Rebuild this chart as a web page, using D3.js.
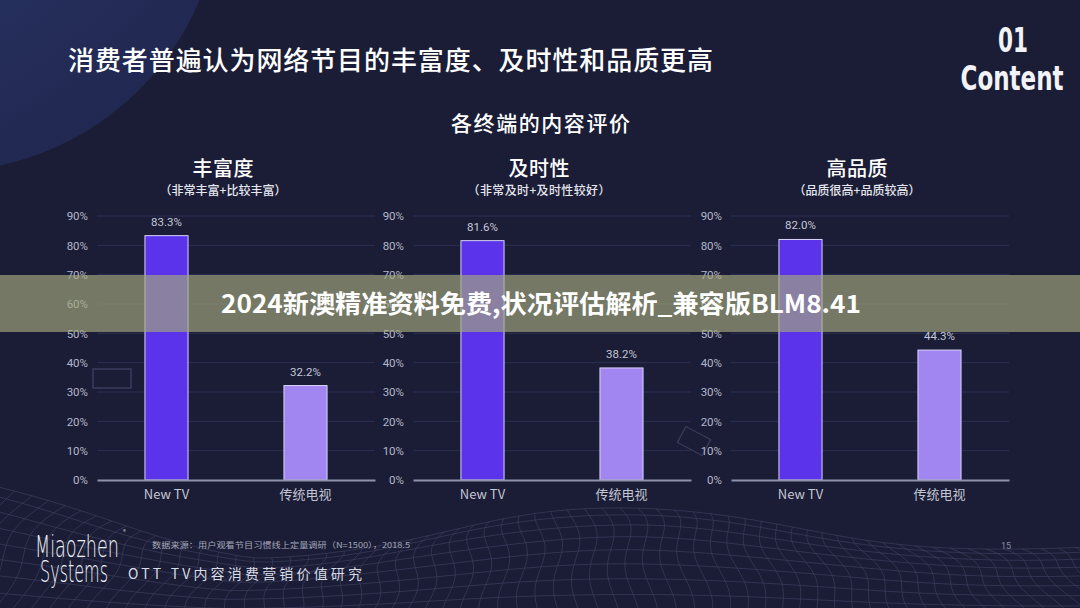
<!DOCTYPE html>
<html><head><meta charset="utf-8">
<script src="https://cdn.jsdelivr.net/npm/d3@7/dist/d3.min.js"></script>
<style>
html,body{margin:0;padding:0;background:#1b1d36;}
svg{display:block;}
text{font-family:"Noto Sans CJK SC","Noto Sans",sans-serif;}
</style></head>
<body>
<svg id="chart" width="1080" height="608"></svg>
<script>
// ---- data ----
const categories = ["New TV", "传统电视"];
const panelTitles = ["丰富度", "及时性", "高品质"];
const panelSubtitles = ["（非常丰富+比较丰富）", "（非常及时+及时性较好）", "（品质很高+品质较高）"];
const richnessValues = [83.3, 32.2];
const timelinessValues = [81.6, 38.2];
const qualityValues = [82.0, 44.3];
const tickValues = [0, 10, 20, 30, 40, 50, 60, 70, 80, 90];
const mainTitle = "消费者普遍认为网络节目的丰富度、及时性和品质更高";
const chartTitle = "各终端的内容评价";
const bannerText = "2024新澳精准资料免费,状况评估解析_兼容版BLM8.41";
const sourceText = "数据来源：用户观看节目习惯线上定量调研（N=1500），2018.5";
const reportText = "OTT TV内容消费营销价值研究";

const panelValues = [richnessValues, timelinessValues, qualityValues];
const subtitleWidths = [127, 143, 127];

const svg = d3.select("#chart");
const W = 1080, H = 608;
const defs = svg.append("defs");

// background
svg.append("rect").attr("width", W).attr("height", H).attr("fill", "#1b1d36");
const rg = defs.append("radialGradient").attr("id", "glow")
  .attr("cx", "0.25").attr("cy", "0.2").attr("r", "0.9");
rg.append("stop").attr("offset", "0").attr("stop-color", "#2f3f72");
rg.append("stop").attr("offset", "1").attr("stop-color", "#212851");
svg.append("circle").attr("cx", -60).attr("cy", -110).attr("r", 282).attr("fill", "url(#glow)");

// decorative wireframe at bottom
const mesh = svg.append("g").attr("fill", "none").attr("stroke", "#7c82b0").attr("stroke-width", 0.6).attr("opacity", 0.38);
const topY = x => 535 + 18 * Math.sin(x / 160 + 0.6) - 10 * Math.cos(x / 95) + (x < 260 ? (260 - x) * -0.18 : 0);
const rows = 9, cols = 70;
const pt = (i, j) => {
  const x0 = i * (W + 80) / cols - 40;
  const t = j / rows;
  const y0 = topY(x0);
  const yy = y0 + (H + 20 - y0) * Math.pow(t, 1.3);
  const xx = x0 + (x0 - 540) * 0.15 * t + 6 * Math.sin(j + i * 0.3);
  return [xx, yy];
};
const line = d3.line().curve(d3.curveBasis);
for (let j = 0; j <= rows; j++) {
  mesh.append("path").attr("d", line(d3.range(cols + 1).map(i => pt(i, j))));
}
for (let i = 0; i <= cols; i++) {
  mesh.append("path").attr("d", line(d3.range(rows + 1).map(j => pt(i, j))));
}

// faint decorative frames
svg.append("rect").attr("x", 93).attr("y", 369).attr("width", 38).attr("height", 19)
  .attr("fill", "none").attr("stroke", "#3a3e5e").attr("stroke-width", 1.5);
svg.append("rect").attr("x", 680).attr("y", 432).attr("width", 28).attr("height", 18)
  .attr("fill", "none").attr("stroke", "#3a3e5e").attr("stroke-width", 1.2)
  .attr("transform", "rotate(28 694 441)");

// titles
svg.append("text").attr("x", 68).attr("y", 70).attr("fill", "#ffffff")
  .attr("font-size", 26).attr("font-weight", 500)
  .attr("textLength", 645).attr("lengthAdjust", "spacing").text(mainTitle);
svg.append("text").attr("x", 1013).attr("y", 52).attr("text-anchor", "middle")
  .attr("fill", "#f2f3f8").attr("font-weight", "bold")
  .attr("font-size", 34).attr("textLength", 30).attr("lengthAdjust", "spacingAndGlyphs")
  .style("font-family", "'DejaVu Sans'").text("01");
svg.append("text").attr("x", 1012).attr("y", 90).attr("text-anchor", "middle")
  .attr("fill", "#f2f3f8").attr("font-weight", "bold")
  .attr("font-size", 34).attr("textLength", 103).attr("lengthAdjust", "spacingAndGlyphs")
  .style("font-family", "'DejaVu Sans'").text("Content");
svg.append("text").attr("x", 451).attr("y", 131)
  .attr("fill", "#ffffff").attr("font-size", 21).attr("font-weight", 500)
  .attr("textLength", 179).attr("lengthAdjust", "spacing").text(chartTitle);

// panels
const plotW = 278, y0 = 480, y90 = 216;
const y = d3.scaleLinear().domain([0, 90]).range([y0, y90]);
const x = d3.scaleBand().domain(categories).range([0, plotW]).paddingInner(0.69).paddingOuter(0.345);
const barColors = d3.scaleOrdinal().domain(categories).range(["#5a33ea", "#a186f1"]);
const panelLefts = [97, 413, 731];

panelValues.forEach((vals, p) => {
  const g = svg.append("g").attr("transform", `translate(${panelLefts[p]},0)`);
  g.append("text").attr("x", 126 - 30.5).attr("y", 176)
    .attr("fill", "#ffffff").attr("font-size", 20).attr("font-weight", 500)
    .attr("textLength", 61).attr("lengthAdjust", "spacing").text(panelTitles[p]);
  g.append("text").attr("x", 126 - subtitleWidths[p] / 2).attr("y", 195)
    .attr("fill", "#e6e7ee").attr("font-size", 12).attr("font-weight", 500)
    .attr("textLength", subtitleWidths[p]).attr("lengthAdjust", "spacing").text(panelSubtitles[p]);

  // gridlines
  g.selectAll("line.grid").data(tickValues.filter(t => t > 0)).join("line")
    .attr("class", "grid").attr("x1", 0).attr("x2", plotW)
    .attr("y1", d => y(d)).attr("y2", d => y(d))
    .attr("stroke", "#2d3152").attr("stroke-width", 1);

  // y axis labels
  const ya = g.append("g").call(d3.axisLeft(y).tickValues(tickValues).tickSize(0).tickPadding(9).tickFormat(d => d + "%"));
  ya.select(".domain").remove();
  ya.selectAll("text").attr("fill", "#b3b7c9").attr("font-size", 11.5).style("font-family", "Roboto, 'Noto Sans', sans-serif");

  // bars
  g.selectAll("rect.bar").data(categories.map((c, i) => ({ c, v: vals[i] }))).join("rect")
    .attr("class", "bar")
    .attr("x", d => x(d.c)).attr("width", x.bandwidth())
    .attr("y", d => y(d.v)).attr("height", d => y(0) - y(d.v))
    .attr("fill", d => barColors(d.c)).attr("stroke", "#d9d3f7").attr("stroke-width", 1);

  // value labels
  g.selectAll("text.val").data(categories.map((c, i) => ({ c, v: vals[i] }))).join("text")
    .attr("class", "val")
    .attr("x", d => x(d.c) + x.bandwidth() / 2).attr("y", d => y(d.v) - 10)
    .attr("text-anchor", "middle").attr("fill", "#c4c7d6").attr("font-size", 11.5)
    .style("font-family", "Roboto, 'Noto Sans', sans-serif")
    .text(d => d.v.toFixed(1) + "%");

  // baseline + categories
  const xa = g.append("g").attr("transform", `translate(0,${y0})`)
    .call(d3.axisBottom(x).tickSize(0).tickPadding(10));
  xa.select(".domain").attr("stroke", "#8d91ab").attr("stroke-width", 2);
  xa.selectAll("text").attr("fill", "#c3c6d5").attr("font-size", 13)
    .style("font-family", "'Noto Sans CJK SC', Roboto, sans-serif");
});

// overlay banner
svg.append("rect").attr("x", 0).attr("y", 275).attr("width", W).attr("height", 57)
  .attr("fill", "rgb(162,168,124)").attr("fill-opacity", 0.66);
svg.append("text").attr("x", 541).attr("y", 313).attr("text-anchor", "middle")
  .attr("fill", "#ffffff").attr("font-size", 25).attr("font-weight", "bold")
  .attr("textLength", 640).attr("lengthAdjust", "spacingAndGlyphs").text(bannerText);

// footer
svg.append("text").attr("x", 77).attr("y", 557).attr("text-anchor", "middle")
  .attr("fill", "#f0f1f6").attr("font-size", 30).attr("font-weight", 300)
  .attr("textLength", 84).attr("lengthAdjust", "spacingAndGlyphs")
  .style("font-family", "'DejaVu Sans'").text("Miaozhen");
svg.append("text").attr("x", 123).attr("y", 534).attr("fill", "#d0d2dc").attr("font-size", 6).text("®");
svg.append("text").attr("x", 74).attr("y", 582).attr("text-anchor", "middle")
  .attr("fill", "#f0f1f6").attr("font-size", 30).attr("font-weight", 300)
  .attr("textLength", 68).attr("lengthAdjust", "spacingAndGlyphs")
  .style("font-family", "'DejaVu Sans'").text("Systems");
svg.append("text").attr("x", 152).attr("y", 548).attr("fill", "#a4a7ba").attr("font-size", 8)
  .attr("textLength", 258).attr("lengthAdjust", "spacingAndGlyphs").text(sourceText);
svg.append("text").attr("x", 128).attr("y", 579).attr("fill", "#d8dae4").attr("font-size", 14)
  .attr("textLength", 234).attr("lengthAdjust", "spacing").text(reportText);
svg.append("text").attr("x", 1006).attr("y", 549).attr("text-anchor", "middle")
  .attr("fill", "#8a8da3").attr("font-size", 9).style("font-family", "Roboto").text("15");
</script>
</body></html>
